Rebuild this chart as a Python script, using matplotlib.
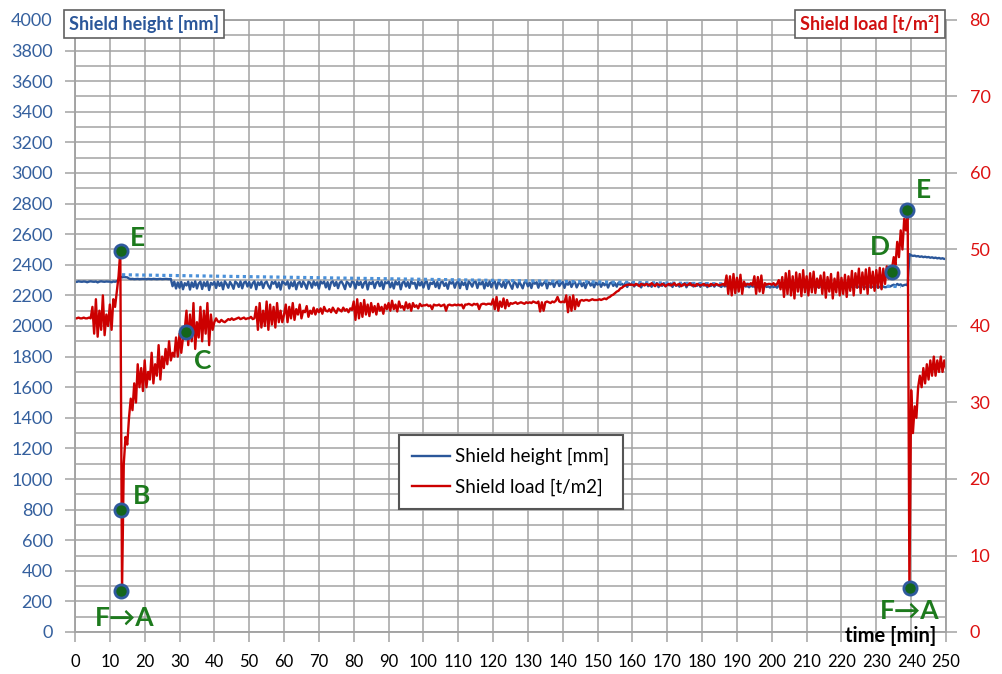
import numpy as np
import matplotlib.pyplot as plt
from matplotlib.ticker import MultipleLocator

plt.rcParams['font.family'] = ['Lato', 'DejaVu Sans']

# one reading every 30 s
minutes = np.arange(0, 250.5, 0.5)

# shield load [t/m2]
shield_load = [
    41.0, 41.0, 41.1, 41.0, 41.0, 41.1, 41.0, 41.0, 41.1, 41.0, 42.5, 39.0, 43.5, 38.6, 42.0, 39.5, 44.0, 38.8, 41.5, 40.0,
    42.8, 39.5, 43.5, 42.5, 44.5, 46.5, 49.8, 5.4, 22.0, 25.5, 24.5, 28.0, 30.5, 29.0, 32.5, 30.0, 35.0, 32.0, 34.5, 31.5,
    35.5, 32.0, 34.0, 33.0, 36.5, 32.5, 35.0, 33.5, 37.5, 33.0, 36.0, 34.5, 37.0, 35.0, 38.0, 35.5, 36.5, 36.0, 38.5, 36.0,
    39.0, 36.5, 38.5, 39.5, 42.0, 37.5, 41.5, 38.0, 43.0, 37.0, 40.5, 38.5, 42.5, 38.0, 42.0, 39.0, 43.0, 37.5, 41.5, 39.5,
    40.5, 41.0, 40.6, 40.5, 40.8, 40.6, 40.5, 40.7, 40.9, 40.8, 41.0, 40.8, 40.9, 41.0, 41.1, 40.9, 41.0, 41.1, 40.9, 41.0,
    41.0, 41.2, 40.9, 41.0, 42.5, 39.5, 43.0, 39.8, 42.0, 40.0, 43.2, 39.5, 42.8, 40.2, 42.5, 39.8, 43.0, 40.5, 42.0, 40.5,
    41.5, 42.8, 40.5, 42.5, 41.0, 43.0, 40.8, 42.2, 41.5, 42.8, 41.0, 42.0, 41.8, 42.6, 41.2, 42.0, 41.6, 42.4, 41.5, 42.2,
    41.8, 42.3, 41.6, 42.5, 42.0, 41.9, 42.2, 41.8, 42.4, 42.0, 41.7, 42.3, 42.1, 41.9, 42.4, 42.0, 42.2, 41.8, 42.3, 42.1,
    43.2, 40.8, 43.5, 41.0, 43.0, 41.2, 43.4, 41.5, 42.8, 41.3, 43.0, 41.8, 42.6, 41.5, 42.9, 42.0, 42.5, 41.6, 42.8, 42.2,
    43.0, 42.0, 43.3, 42.2, 42.8, 41.9, 43.2, 42.4, 42.6, 42.1, 43.1, 42.3, 42.9, 42.0, 43.0, 42.5, 42.7, 42.3, 42.9, 42.6,
    42.7, 42.7, 42.8, 42.6, 42.7, 42.2, 42.8, 42.7, 42.7, 42.8, 42.6, 42.7, 42.8, 42.0, 42.7, 42.8, 42.7, 42.7, 42.8, 42.7,
    42.8, 42.7, 42.8, 42.3, 42.8, 42.8, 42.9, 42.8, 42.7, 42.9, 42.8, 42.9, 42.2, 42.8, 42.9, 42.9, 42.8, 42.9, 42.9, 42.8,
    43.5, 42.2, 43.8, 42.0, 43.2, 42.5, 43.6, 42.3, 43.4, 42.6, 43.0, 42.9, 43.0, 43.1, 42.9, 43.0, 43.1, 43.0, 42.9, 43.1,
    43.0, 43.1, 43.0, 43.2, 43.1, 43.0, 43.2, 41.9, 43.1, 42.0, 43.1, 43.2, 43.1, 43.0, 43.2, 43.1, 43.3, 43.8, 43.2, 43.1,
    43.2, 43.1, 44.0, 41.8, 43.8, 42.0, 44.0, 42.2, 43.5, 42.6, 43.3, 43.4, 43.3, 43.4, 43.4, 43.3, 43.4, 43.5, 43.4, 43.4,
    43.4, 43.5, 43.4, 43.5, 43.6, 43.5, 43.7, 43.8, 44.0, 44.1, 44.3, 44.5, 44.6, 44.9, 45.0, 45.2, 45.3, 45.4, 45.4, 45.4,
    45.4, 45.3, 45.5, 45.4, 45.2, 45.5, 45.4, 45.3, 45.5, 45.4, 45.3, 45.6, 45.4, 45.2, 45.5, 45.4, 45.3, 45.5, 45.4, 45.2,
    45.4, 45.5, 45.3, 45.4, 45.6, 45.3, 45.4, 45.5, 45.2, 45.4, 45.5, 45.3, 45.4, 45.6, 45.3, 45.4, 45.2, 45.5, 45.4, 45.3,
    45.4, 45.5, 45.3, 45.4, 45.2, 45.5, 45.4, 45.3, 45.5, 45.4, 45.3, 45.4, 45.5, 45.3, 46.6, 44.2, 46.5, 44.0, 46.8, 44.3,
    46.3, 44.5, 46.7, 44.2, 45.8, 45.3, 45.5, 45.4, 45.6, 45.3, 46.5, 44.2, 46.4, 44.5, 46.6, 44.3, 45.6, 45.4, 45.5, 45.5,
    45.4, 45.6, 45.3, 45.5, 46.0, 44.8, 46.4, 43.8, 46.9, 44.2, 47.2, 44.0, 46.5, 43.6, 47.0, 44.5, 46.8, 43.9, 47.3, 44.4,
    46.5, 44.0, 46.9, 44.4, 47.1, 44.3, 46.2, 45.0, 46.6, 44.2, 47.0, 43.7, 46.4, 44.5, 46.8, 43.6, 46.2, 44.4, 47.0, 44.0,
    46.3, 44.2, 46.7, 43.8, 46.5, 44.6, 47.2, 44.0, 46.9, 45.0, 47.5, 44.3, 47.0, 44.8, 47.4, 44.2, 47.6, 45.0, 47.1, 44.6,
    47.3, 45.0, 47.6, 44.8, 47.5, 45.5, 47.8, 46.2, 47.3, 47.5, 49.0, 48.0, 51.0, 49.0, 52.5, 50.0, 54.0, 52.5, 55.2, 5.6,
    31.6, 26.0, 29.5, 28.0, 32.0, 33.5, 32.0, 34.5, 32.5, 35.0, 33.0, 35.5, 33.5, 36.0, 33.5, 35.5, 34.0, 36.0, 34.0, 35.5,
    34.5,
]

# shield height [mm]
shield_height = [
    2290, 2288, 2292, 2290, 2289, 2291, 2290, 2286, 2290, 2292, 2290, 2289, 2291, 2285, 2290, 2292, 2290, 2289, 2291, 2290,
    2290, 2286, 2291, 2289, 2293, 2300, 2322, 2318, 2320, 2319, 2318, 2310, 2307, 2308, 2306, 2307, 2308, 2306, 2307, 2308,
    2307, 2306, 2308, 2307, 2306, 2308, 2307, 2306, 2307, 2308, 2306, 2307, 2308, 2307, 2306, 2308, 2260, 2290, 2245, 2285,
    2250, 2288, 2240, 2280, 2265, 2290, 2238, 2285, 2255, 2292, 2245, 2278, 2290, 2242, 2286, 2260, 2290, 2235, 2282, 2270,
    2288, 2248, 2290, 2262, 2285, 2240, 2292, 2275, 2250, 2288, 2270, 2243, 2290, 2280, 2255, 2291, 2246, 2284, 2290, 2258,
    2287, 2250, 2280, 2292, 2240, 2285, 2268, 2290, 2248, 2282, 2290, 2262, 2244, 2288, 2276, 2290, 2252, 2285, 2238, 2290,
    2282, 2270, 2291, 2245, 2286, 2260, 2292, 2240, 2280, 2288, 2255, 2290, 2272, 2243, 2289, 2283, 2250, 2291, 2266, 2286,
    2244, 2290, 2278, 2290, 2252, 2287, 2240, 2285, 2292, 2262, 2288, 2247, 2283, 2291, 2270, 2241, 2289, 2280, 2256, 2290,
    2285, 2245, 2291, 2268, 2288, 2250, 2282, 2292, 2239, 2286, 2274, 2290, 2248, 2284, 2289, 2260, 2291, 2242, 2287, 2279,
    2290, 2253, 2285, 2245, 2291, 2271, 2288, 2240, 2284, 2290, 2258, 2287, 2249, 2292, 2276, 2283, 2244, 2290, 2265, 2288,
    2251, 2286, 2290, 2242, 2283, 2274, 2291, 2255, 2288, 2246, 2285, 2290, 2262, 2280, 2243, 2289, 2277, 2290, 2250, 2284,
    2290, 2247, 2288, 2268, 2285, 2241, 2291, 2279, 2257, 2287, 2290, 2248, 2283, 2272, 2290, 2245, 2286, 2261, 2291, 2253,
    2282, 2290, 2244, 2287, 2275, 2256, 2289, 2248, 2284, 2291, 2266, 2243, 2288, 2280, 2252, 2290, 2270, 2246, 2285, 2289,
    2259, 2283, 2248, 2290, 2276, 2286, 2250, 2288, 2264, 2280, 2291, 2246, 2284, 2272, 2289, 2255, 2282, 2290, 2261, 2278,
    2287, 2249, 2283, 2270, 2289, 2255, 2280, 2286, 2252, 2275, 2288, 2260, 2282, 2248, 2279, 2287, 2264, 2281, 2253, 2284,
    2270, 2286, 2256, 2281, 2266, 2284, 2251, 2278, 2285, 2262, 2280, 2257, 2283, 2270, 2276, 2262, 2281, 2255, 2279, 2268,
    2282, 2258, 2275, 2266, 2280, 2252, 2277, 2268, 2283, 2260, 2274, 2256, 2279, 2265, 2281, 2254, 2276, 2262, 2280, 2259,
    2272, 2266, 2278, 2255, 2280, 2263, 2270, 2257, 2277, 2265, 2281, 2253, 2274, 2268, 2279, 2258, 2271, 2262, 2277, 2256,
    2273, 2264, 2278, 2254, 2270, 2261, 2276, 2257, 2272, 2266, 2262, 2255, 2270, 2258, 2266, 2252, 2268, 2260, 2263, 2254,
    2266, 2256, 2262, 2250, 2268, 2258, 2261, 2253, 2265, 2257, 2260, 2250, 2264, 2256, 2262, 2252, 2266, 2255, 2259, 2251,
    2263, 2254, 2260, 2250, 2265, 2256, 2258, 2252, 2262, 2255, 2260, 2249, 2264, 2254, 2258, 2251, 2261, 2256, 2259, 2250,
    2262, 2253, 2258, 2250, 2264, 2255, 2257, 2251, 2261, 2254, 2259, 2249, 2263, 2253, 2257, 2250, 2260, 2255, 2258, 2251,
    2261, 2252, 2257, 2249, 2262, 2254, 2256, 2250, 2260, 2253, 2258, 2248, 2261, 2252, 2256, 2250, 2259, 2254, 2257, 2250,
    2260, 2251, 2256, 2249, 2258, 2253, 2255, 2262, 2258, 2265, 2270, 2262, 2275, 2268, 2272, 2262, 2268, 2270, 2265, 2470,
    2462, 2458, 2460, 2455, 2457, 2452, 2455, 2450, 2453, 2449, 2451, 2446, 2449, 2444, 2447, 2442, 2445, 2440, 2443, 2438,
    2440,
]

# dotted height trend between the two roof contacts
trend_t = [13.5, 237.0]
trend_height = [2335, 2258]

# marked working-cycle points (on the load curve)
event_t = [13.2, 13.2, 13.2, 31.8, 234.5, 238.9, 239.6]
event_load = [49.8, 16.0, 5.4, 39.2, 47.0, 55.2, 5.7]
event_names = ['E', 'B', 'F→A', 'C', 'D', 'E', 'F→A']

BLUE = '#2b579a'
RED = '#cc0000'
GREEN = '#1d7a1d'
GRID = '#a3a3a3'

fig = plt.figure(figsize=(10.03, 6.74), dpi=100)
ax = fig.add_axes([75 / 1003, 42 / 674, 871 / 1003, 612 / 674])
ax2 = ax.twinx()

h1, = ax.plot(minutes, shield_height, color=BLUE, lw=1.7, label='Shield height [mm]')
ax.plot(trend_t, trend_height, color='#4a90d9', lw=2.3, ls=(0, (1, 1.1)))
h2, = ax2.plot(minutes, shield_load, color=RED, lw=1.7, label='Shield load [t/m2]')

ax2.plot(event_t, event_load, 'o', ms=9.5, mfc='#14661c', mec='#2f5a9e', mew=2, zorder=5)
offsets = [(16, 13), (21, 14), (4, -27), (17, -29), (-12, 25), (16, 20), (0, -23)]
for t, v, name, off in zip(event_t, event_load, event_names, offsets):
    ax2.annotate(name, (t, v), xytext=off, textcoords='offset pixels', ha='center', va='center',
                 fontsize=19, fontweight='bold', color=GREEN, zorder=6)

ax.set_xlim(0, 250)
ax.set_ylim(0, 4000)
ax2.set_ylim(0, 80)
ax.xaxis.set_major_locator(MultipleLocator(10))
ax.yaxis.set_major_locator(MultipleLocator(200))
ax.yaxis.set_minor_locator(MultipleLocator(100))
ax2.yaxis.set_major_locator(MultipleLocator(10))

ax.grid(which='both', color=GRID, lw=1.1)
ax.set_axisbelow(True)
ax.tick_params(axis='y', which='minor', length=0)
ax.tick_params(axis='y', which='major', color=GRID, labelcolor='#35609e', labelsize=13, length=7, width=1.1, pad=9)
ax.tick_params(axis='x', color=GRID, labelcolor='black', labelsize=12, length=7, width=1.1, pad=9)
ax2.tick_params(axis='y', color=GRID, labelcolor='#dd1111', labelsize=13, length=8, width=1.1, pad=9)
for a in (ax, ax2):
    for s in a.spines.values():
        s.set_color(GRID)
        s.set_linewidth(1.1)

ax2.text(234.0, -0.5, 'time [min]', ha='center', va='center', fontsize=14.5, fontweight='bold', color='black')

box = dict(boxstyle='square,pad=0.3', fc='white', ec='#606060', lw=1.2)
fig.text(144 / 1003, 1 - 24 / 674, 'Shield height [mm]', ha='center', va='center', fontsize=13,
         fontweight='bold', color=BLUE, bbox=box)
fig.text(870 / 1003, 1 - 24 / 674, 'Shield load [t/m²]', ha='center', va='center', fontsize=13,
         fontweight='bold', color='#d01010', bbox=box)

leg = ax2.legend(handles=[h1, h2], loc='center', bbox_to_anchor=(511 / 1003, 1 - 472 / 674),
                 bbox_transform=fig.transFigure, fontsize=13.5, handlelength=2.0, handletextpad=0.3,
                 fancybox=False, framealpha=1, edgecolor='#555555', borderpad=0.7, labelspacing=0.7)
leg.get_frame().set_linewidth(1.5)

fig.savefig('out.png', dpi=100)
